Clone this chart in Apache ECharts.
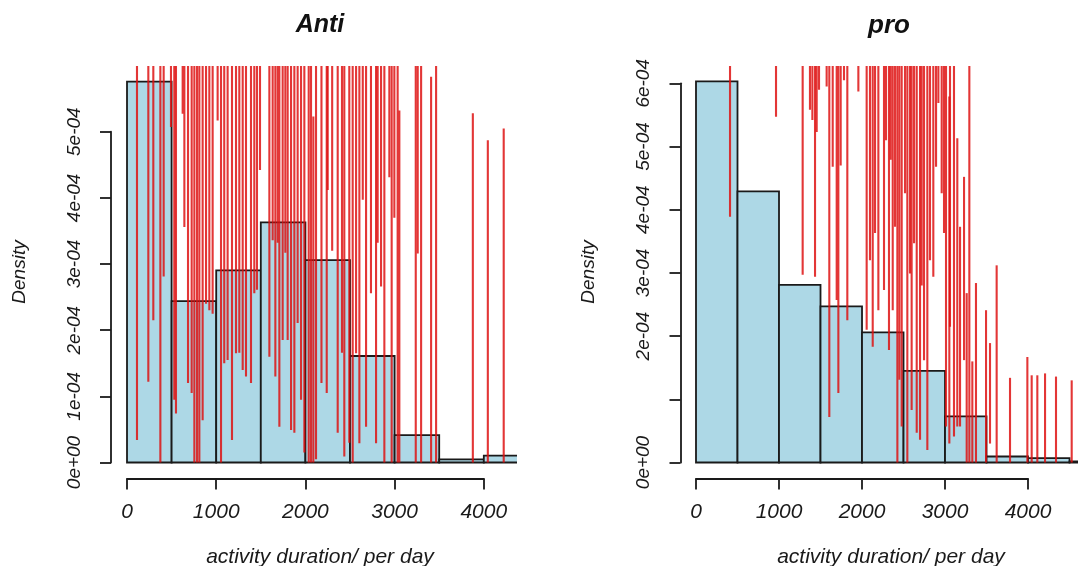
<!DOCTYPE html>
<html><head><meta charset="utf-8">
<script src="https://cdn.jsdelivr.net/npm/echarts@6/dist/echarts.min.js"></script>
<style>html,body{margin:0;padding:0;background:#fff}#c{width:1078px;height:566px}</style>
</head><body><div id="c"></div>
<script>
// Density values are in units of 1e-4
const binEdgesAnti = [0, 500, 1000, 1500, 2000, 2500, 3000, 3500, 4000, 4500];
const densityAnti  = [5.756, 2.44, 2.905, 3.63, 3.06, 1.61, 0.415, 0.048, 0.103];
const binEdgesPro  = [0, 500, 1000, 1500, 2000, 2500, 3000, 3500, 4000, 4500, 5000];
const densityPro   = [6.03, 4.29, 2.81, 2.47, 2.06, 1.45, 0.73, 0.095, 0.07, 0.016];
const xTicks = [0, 1000, 2000, 3000, 4000];
const xTickLabels = ['0', '1000', '2000', '3000', '4000'];
const yTickLabelsAnti = ['0e+00', '1e-04', '2e-04', '3e-04', '4e-04', '5e-04'];
const yTickLabelsPro  = ['0e+00', '', '2e-04', '3e-04', '4e-04', '5e-04', '6e-04'];
const A = 99; // density curve leaves the plot region (clipped at the top)
// red density curve, read as vertical strokes: [x, lowest density, highest density]
const spikesAnti = [
 [112,0.34,A],[239,1.22,A],[295,2.15,A],[374,0,A],[411,2.81,A],[493,5.07,A],[530,0.95,A],[549,0.74,A],
 [624,5.27,A],[643,3.56,A],[684,1.2,A],[725,1.05,A],[755,0,A],[785,0,A],[811,0,A],[848,0.64,A],
 [886,2.4,A],[923,2.3,A],[960,2.25,A],[1016,5.17,A],[1054,0,A],[1090,1.5,A],[1128,1.55,A],[1177,0.34,A],
 [1222,1.65,A],[1259,1.66,A],[1297,1.4,A],[1334,1.3,A],[1390,1.2,A],[1427,2.56,A],[1457,2.61,A],[1491,4.42,A],
 [1596,1.6,A],[1633,3.36,A],[1663,1.3,A],[1689,3.32,A],[1708,0.54,A],[1745,1.85,A],[1775,3.17,A],[1801,1.85,A],
 [1839,0.49,A],[1876,0.45,A],[1913,2.11,A],[1951,0.95,A],[1988,0.15,A],[2037,0,A],[2063,0,A],[2089,0,5.23],
 [2119,0.05,A],[2180,1.2,A],[2239,1.05,A],[2250,4.12,A],[2300,3.2,A],[2362,0.45,A],[2410,1.66,A],[2436,0.09,A],
 [2492,0.3,A],[2530,0,A],[2568,1.65,A],[2605,0.29,A],[2643,3.97,A],[2680,0.54,A],[2735,2.56,A],[2792,0.29,A],
 [2810,3.32,A],[2848,2.66,A],[2885,0,A],[2941,4.31,A],[2967,0,A],[2997,3.7,A],[3034,0,A],[3053,0,5.32],
 [3237,0,A],[3259,3.16,A],[3297,0,A],[3409,0,5.83],[3465,0,A],[3877,0,5.28],[4045,0,4.87],[4223,0,5.05]
];
const spikesPro = [
 [410,3.89,A],[964,5.47,A],[1285,2.97,A],[1373,5.58,A],[1402,5.42,A],[1434,2.94,A],[1454,5.23,A],[1482,5.9,A],
 [1574,5.95,A],[1606,0.72,A],[1647,4.68,A],[1695,2.57,A],[1715,1.1,A],[1743,4.7,A],[1783,6.05,A],[1823,2.25,A],
 [1956,5.87,A],[2056,2.1,A],[2096,3.2,A],[2129,1.83,A],[2157,3.63,A],[2197,2.41,A],[2265,2.73,A],[2289,5.1,A],
 [2325,1.78,A],[2346,4.79,A],[2370,2.41,A],[2398,3.73,A],[2426,0,A],[2450,1.31,A],[2478,0.57,A],[2518,4.26,A],
 [2546,0,A],[2578,2.99,A],[2598,0.83,A],[2627,3.47,A],[2659,0.47,A],[2699,0.36,A],[2719,2.8,A],[2747,1.62,A],
 [2787,0.2,A],[2819,3.2,A],[2859,2.94,A],[2892,4.68,A],[2920,5.69,A],[2960,4.26,A],[2988,3.63,A],[3012,0.57,A],
 [3052,0.3,5.79],[3060,2.15,A],[3108,0.41,A],[3148,0.57,5.13],[3181,0.57,3.73],[3229,1.62,4.52],[3261,0,2.68],[3293,0,A],
 [3329,0,1.6],[3373,0,2.84],[3494,0,2.41],[3542,0.3,1.89],[3622,0,3.12],[3783,0,1.34],[3992,0,1.67],[4044,0,1.38],
 [4112,0,1.38],[4205,0,1.41],[4337,0,1.36],[4526,0,1.3]
];

const FONT = 'Liberation Sans, Arial, Helvetica, sans-serif';
const INK = '#1a1a1a';

function bins(edges, dens) { return dens.map((d, i) => [edges[i], edges[i + 1], d]); }

function histSeries(gi, data) {
  return {
    type: 'custom', xAxisIndex: gi, yAxisIndex: gi, clip: true, z: 2,
    data: data,
    renderItem: (params, api) => {
      const p0 = api.coord([api.value(0), 0]);
      const p1 = api.coord([api.value(1), api.value(2)]);
      return { type: 'rect', shape: { x: p0[0], y: p1[1], width: p1[0] - p0[0], height: p0[1] - p1[1] },
        style: { fill: '#ADD8E6', stroke: INK, lineWidth: 1.8 } };
    }
  };
}
function curveSeries(gi, data) {
  return {
    type: 'custom', xAxisIndex: gi, yAxisIndex: gi, clip: true, z: 3,
    data: data,
    renderItem: (params, api) => {
      const a = api.coord([api.value(0), api.value(1)]);
      const b = api.coord([api.value(0), api.value(2)]);
      return { type: 'line', shape: { x1: a[0], y1: a[1], x2: b[0], y2: b[1] },
        style: { stroke: 'rgba(222,16,16,0.84)', lineWidth: 2.1 } };
    }
  };
}
const hiddenX = (gi, min, max) => ({ type: 'value', gridIndex: gi, min, max, show: false, splitLine: { show: false } });
const hiddenY = (gi, min, max) => ({ type: 'value', gridIndex: gi, min, max, show: false, splitLine: { show: false } });
const axisStyle = { lineStyle: { color: INK, width: 1.8 } };
function tickX(gi) {
  return { type: 'value', gridIndex: gi, min: xTicks[0], max: xTicks[xTicks.length - 1], interval: 1000,
    axisLine: { show: true, ...axisStyle }, axisTick: { show: true, inside: false, length: 11, ...axisStyle },
    splitLine: { show: false },
    axisLabel: { show: true, margin: 23, fontFamily: FONT, fontStyle: 'italic', fontSize: 21, color: INK,
      showMinLabel: true, showMaxLabel: true, formatter: (v) => xTickLabels[xTicks.indexOf(Math.round(v))] } };
}
function tickY(gi, labels) {
  return { type: 'value', gridIndex: gi, min: 0, max: labels.length - 1, interval: 1,
    axisLine: { show: true, ...axisStyle }, axisTick: { show: true, inside: false, length: 11, ...axisStyle },
    splitLine: { show: false },
    axisLabel: { show: true, rotate: 90, margin: 27, fontFamily: FONT, fontStyle: 'italic', fontSize: 19, color: INK,
      showMinLabel: true, showMaxLabel: true, formatter: (v) => labels[Math.round(v)] } };
}
function nameY(gi, min, max) {
  return { type: 'value', gridIndex: gi, min, max, show: true,
    axisLine: { show: false }, axisTick: { show: false }, axisLabel: { show: false }, splitLine: { show: false },
    name: 'Density', nameLocation: 'middle', nameRotate: 90, nameGap: 82,
    nameTextStyle: { fontFamily: FONT, fontStyle: 'italic', fontSize: 19, color: INK } };
}

const option = {
  animation: false,
  backgroundColor: '#fff',
  title: [
    { text: 'Anti', left: 315, top: 8, textAlign: 'center',
      textStyle: { fontFamily: FONT, fontStyle: 'italic', fontWeight: 'bold', fontSize: 25, color: '#111' } },
    { text: 'pro', left: 884, top: 8, textAlign: 'center',
      textStyle: { fontFamily: FONT, fontStyle: 'italic', fontWeight: 'bold', fontSize: 26, color: '#111' } },
    { text: 'activity duration/ per day', left: 315, top: 542, textAlign: 'center',
      textStyle: { fontFamily: FONT, fontStyle: 'italic', fontWeight: 'normal', fontSize: 21, color: INK } },
    { text: 'activity duration/ per day', left: 886, top: 542, textAlign: 'center',
      textStyle: { fontFamily: FONT, fontStyle: 'italic', fontWeight: 'normal', fontSize: 21, color: INK } }
  ],
  grid: [
    { left: 111, top: 66, width: 406, height: 412 },
    { left: 127, top: 470.5, width: 356.8, height: 8 },
    { left: 111, top: 131.7, width: 10, height: 330.8 },
    { left: 680.5, top: 66, width: 397.5, height: 412 },
    { left: 696, top: 470.5, width: 332, height: 8 },
    { left: 680.5, top: 83.3, width: 10, height: 379.2 }
  ],
  xAxis: [
    hiddenX(0, -179.4, 4372),
    tickX(1),
    hiddenX(2, 0, 1),
    hiddenX(3, -186.7, 4602),
    tickX(4),
    hiddenX(5, 0, 1)
  ],
  yAxis: [
    nameY(0, -0.234, 5.993),
    hiddenY(1, 0, 1),
    tickY(2, yTickLabelsAnti),
    nameY(3, -0.245, 6.274),
    hiddenY(4, 0, 1),
    tickY(5, yTickLabelsPro)
  ],
  series: [
    histSeries(0, bins(binEdgesAnti, densityAnti)),
    curveSeries(0, spikesAnti),
    histSeries(3, bins(binEdgesPro, densityPro)),
    curveSeries(3, spikesPro)
  ]
};
const chart = echarts.init(document.getElementById('c'), null, { renderer: 'canvas' });
chart.setOption(option);
</script></body></html>
